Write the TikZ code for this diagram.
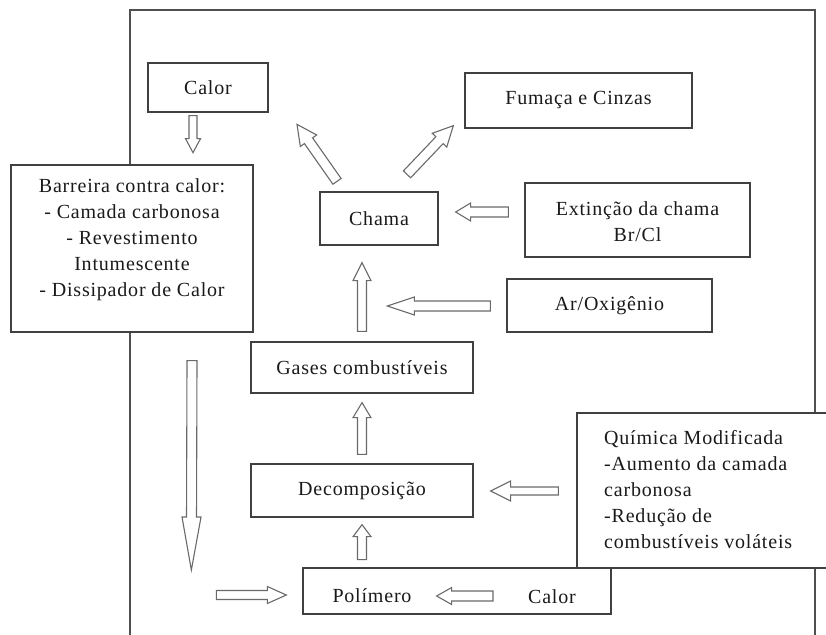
\documentclass[tikz,border=0pt]{standalone}
\usepackage{fontspec}
\setmainfont{Liberation Serif}[LetterSpace=4]
\usetikzlibrary{calc}
\definecolor{boxcol}{HTML}{404040}
\definecolor{arrcol}{HTML}{6A6A6A}
\definecolor{txtcol}{HTML}{1A1A1A}
\definecolor{framecol}{HTML}{505050}
\tikzset{
  box/.style={draw=boxcol, line width=1.3pt, fill=white, inner sep=0pt, text=txtcol},
  txt/.style={inner sep=0pt, text=txtcol},
  harrow/.style={draw=arrcol, line width=1.1pt, fill=white, line join=miter},
}
% hollow block arrow: #1 from, #2 to, #3 half shaft, #4 half head, #5 head length
\newcommand\blockarrow[5]{%
  \path #1; \pgfgetlastxy{\bax}{\bay}%
  \path #2; \pgfgetlastxy{\bbx}{\bby}%
  \pgfmathsetmacro\baang{atan2(\bby-\bay,\bbx-\bax)}%
  \pgfmathsetmacro\balen{veclen(\bbx-\bax,\bby-\bay)}%
  \pgfmathsetmacro\baneck{\balen-#5}%
  \draw[harrow, shift={(\bax,\bay)}, rotate=\baang]
    (0,-#3) -- (\baneck,-#3) -- (\baneck,-#4) -- (\balen,0) -- (\baneck,#4)
    -- (\baneck,#3) -- (0,#3) -- cycle;
}
\begin{document}
\begin{tikzpicture}[x=1pt, y=-1pt, font=\fontsize{20}{26}\selectfont]
\useasboundingbox (0,0) rectangle (826,634);
\begin{scope}
\clip (0,0) rectangle (826,634);
% outer frame
\draw[framecol, line width=1.6pt] (130,640) -- (130,10) -- (815,10) -- (815,640);

% boxes
\node[box, minimum width=120pt, minimum height=49pt] (calor) at (208,87.5) {Calor};
\node[box, minimum width=242pt, minimum height=167pt] (barreira) at (132,248.5) {};
\node[txt, align=center] (barreiratxt) at (132,240) {Barreira contra calor:\\- Camada carbonosa\\- Revestimento\\Intumescente\\- Dissipador de Calor};
\node[box, minimum width=118pt, minimum height=53pt] (chama) at (379,218.5) {Chama};
\node[box, minimum width=227pt, minimum height=55pt] (fumaca) at (578.5,100.5) {Fumaça e Cinzas};
\node[box, minimum width=225pt, minimum height=74pt] (extincao) at (637.5,220) {};
\node[txt, align=center] (extincaotxt) at (637.5,221.5) {Extinção da chama\\Br/Cl};
\node[box, minimum width=205pt, minimum height=53pt] (ar) at (609.5,305.5) {Ar/Oxigênio};
\node[box, minimum width=222pt, minimum height=51pt] (gases) at (362,367.5) {Gases combustíveis};
\node[box, minimum width=222pt, minimum height=53pt] (decomp) at (362,490.5) {Decomposição};
\node[box, minimum width=263pt, minimum height=155pt] (quimica) at (708.5,490.5) {};
\node[txt, align=left, anchor=west] (quimicatxt) at (604,490) {Química Modificada\\-Aumento da camada\\carbonosa\\-Redução de\\combustíveis voláteis};
\node[box, minimum width=308pt, minimum height=46pt] (polbox) at (457,591) {};
\node[txt] (polimero) at (372,596) {Polímero};
\node[txt] (calor2) at (552,597) {Calor};

% connector end points
\coordinate (c1a) at ($(calor.south)+(-15,3)$);
\coordinate (c1b) at ($(calor.south)+(-15,40)$);
\coordinate (c2a) at ($(barreira.south)+(60,28)$);
\coordinate (c2b) at ($(polbox.west)+(-111,-21)$);
\coordinate (c3a) at ($(polbox.west)+(-86,4)$);
\coordinate (c3b) at ($(polbox.west)+(-16,4)$);
\coordinate (c4a) at ($(calor2.west)+(-35,-1)$);
\coordinate (c4b) at ($(polimero.east)+(25,0)$);
\coordinate (c5a) at ($(decomp.south)+(0,42)$);
\coordinate (c5b) at ($(decomp.south)+(0,7)$);
\coordinate (c6a) at ($(decomp.north)+(0,-9)$);
\coordinate (c6b) at ($(gases.south)+(0,9)$);
\coordinate (c7a) at ($(gases.north)+(0,-10)$);
\coordinate (c7b) at ($(chama.south)+(-17,17)$);
\coordinate (c8a) at ($(ar.west)+(-16,0.5)$);
\coordinate (c8b) at ($(ar.west)+(-119,0.5)$);
\coordinate (c9a) at ($(extincao.west)+(-16,-8)$);
\coordinate (c9b) at ($(chama.east)+(17,-6.5)$);
\coordinate (c10a) at ($(quimica.west)+(-18,0.5)$);
\coordinate (c10b) at ($(decomp.east)+(17,0.5)$);
\coordinate (c11a) at ($(chama.north)+(-42,-10)$);
\coordinate (c11b) at ($(chama.north)+(-82,-67)$);
\coordinate (c12a) at ($(chama.north)+(28,-17)$);
\coordinate (c12b) at ($(fumaca.south west)+(-11,-3)$);

% hollow block arrows
\blockarrow{(c1a)}{(c1b)}{4}{7.5}{14}
\blockarrow{(c2a)}{(c2b)}{5}{9.5}{53}
\blockarrow{(c3a)}{(c3b)}{4.5}{8.5}{19}
\blockarrow{(c4a)}{(c4b)}{5}{8.5}{15}
\blockarrow{(c5a)}{(c5b)}{4.5}{9}{12}
\blockarrow{(c6a)}{(c6b)}{4.5}{9}{15}
\blockarrow{(c7a)}{(c7b)}{4.5}{9}{18}
\blockarrow{(c8a)}{(c8b)}{5}{9}{27}
\blockarrow{(c9a)}{(c9b)}{5}{9}{15}
\blockarrow{(c10a)}{(c10b)}{4}{10}{20}
\blockarrow{(c11a)}{(c11b)}{5}{10}{20}
\blockarrow{(c12a)}{(c12b)}{5}{10}{20}
\end{scope}
\end{tikzpicture}
\end{document}
